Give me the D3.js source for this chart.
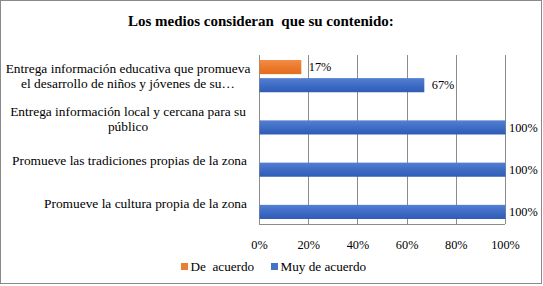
<!DOCTYPE html>
<html>
<head>
<meta charset="utf-8">
<script src="https://cdn.jsdelivr.net/npm/d3@7"></script>
<style>
  body { margin: 0; background: #fff; }
</style>
</head>
<body>
<div id="chart"></div>
<script>
  // data
  const categories = [
    ["Entrega información educativa que promueva", "el desarrollo de niños y jóvenes de su…"],
    ["Entrega información local y cercana para su", "público"],
    ["Promueve las tradiciones propias de la zona"],
    ["Promueve la cultura propia de la zona"]
  ];
  const seriesNames = ["De  acuerdo", "Muy de acuerdo"];
  const deAcuerdo = [17, null, null, null];
  const muyDeAcuerdo = [67, 100, 100, 100];
  const xTicks = [0, 20, 40, 60, 80, 100];
  const title = "Los medios consideran  que su contenido:";

  const W = 543, H = 286;
  const plot = {left: 259, right: 505, top: 55, bottom: 224};
  const colors = ["#ED7D31", "#4472C4"];
  const FONT = "Liberation Serif";

  const svg = d3.select("#chart").append("svg")
    .attr("width", W).attr("height", H);

  // gradients for bars
  const defs = svg.append("defs");
  const grads = [["#F28C46", "#EC7A2C", "#E26E1F"], ["#5480D2", "#3F6CC4", "#2E5CB6"]];
  grads.forEach((g, i) => {
    const lg = defs.append("linearGradient").attr("id", "g" + i)
      .attr("x1", 0).attr("y1", 0).attr("x2", 0).attr("y2", 1);
    lg.append("stop").attr("offset", "0%").attr("stop-color", g[0]);
    lg.append("stop").attr("offset", "50%").attr("stop-color", g[1]);
    lg.append("stop").attr("offset", "100%").attr("stop-color", g[2]);
  });

  // border
  svg.append("rect")
    .attr("x", 0.5).attr("y", 0.5)
    .attr("width", W - 2).attr("height", H - 3)
    .attr("fill", "#fff").attr("stroke", "#898989");

  svg.append("text")
    .attr("x", 128).attr("y", 26)
    .attr("font-family", FONT).attr("font-size", 15).attr("font-weight", "bold")
    .style("white-space", "pre")
    .text(title);

  // scales
  const x = d3.scaleLinear().domain([0, 100]).range([plot.left, plot.right]);
  const y0 = d3.scaleBand().domain(d3.range(categories.length))
    .range([plot.top, plot.bottom]).paddingInner(0.237).paddingOuter(0.1185);
  const y1 = d3.scaleBand().domain([0, 1])
    .range([0, y0.bandwidth()]).paddingInner(0.22);

  // gridlines
  svg.append("g")
    .attr("transform", `translate(0,${plot.bottom})`)
    .call(d3.axisBottom(x).tickValues(xTicks).tickSize(-(plot.bottom - plot.top)).tickFormat(""))
    .call(g => g.select(".domain").remove())
    .call(g => g.selectAll("line").attr("stroke", "#8c8c8c").attr("shape-rendering", "crispEdges"));

  // axis lines
  svg.append("line")
    .attr("x1", plot.left).attr("x2", plot.left)
    .attr("y1", plot.top).attr("y2", plot.bottom)
    .attr("stroke", "#8c8c8c").attr("shape-rendering", "crispEdges");
  svg.append("line")
    .attr("x1", plot.left).attr("x2", plot.right)
    .attr("y1", plot.bottom).attr("y2", plot.bottom)
    .attr("stroke", "#8c8c8c").attr("shape-rendering", "crispEdges");

  // x tick labels
  svg.append("g")
    .attr("transform", `translate(0,${plot.bottom})`)
    .call(d3.axisBottom(x).tickValues(xTicks).tickSize(0).tickPadding(16).tickFormat(d => d + "%"))
    .call(g => g.attr("font-family", FONT).attr("font-size", 12.3))
    .call(g => g.select(".domain").remove())
    .call(g => g.selectAll("text").attr("fill", "#000"));

  // bars
  const series = [deAcuerdo, muyDeAcuerdo];
  series.forEach((vals, s) => {
    const gs = svg.append("g");
    vals.forEach((v, i) => {
      if (v == null) return;
      const yy = y0(i) + y1(s);
      gs.append("rect")
        .attr("x", x(0) + 0.5).attr("y", yy)
        .attr("width", x(v) - x(0)).attr("height", y1.bandwidth())
        .attr("fill", `url(#g${s})`);
      gs.append("text")
        .attr("x", Math.min(x(v) + 8, 509))
        .attr("y", yy + y1.bandwidth() / 2)
        .attr("dy", "0.35em")
        .attr("font-family", FONT).attr("font-size", 12.3)
        .text(v + "%");
    });
  });

  // category labels
  categories.forEach((lines, i) => {
    const cy = y0(i) + y0.bandwidth() / 2;
    const t = svg.append("text")
      .attr("font-family", FONT).attr("font-size", 13.4)
      .attr("text-anchor", lines.length > 1 ? "middle" : "end");
    lines.forEach((ln, j) => {
      t.append("tspan")
        .attr("x", lines.length > 1 ? 128 : 247)
        .attr("y", cy + (j - (lines.length - 1) / 2) * 15)
        .attr("dy", "0.35em")
        .text(ln);
    });
  });

  // legend
  const legend = svg.append("g");
  const lx = [181, 271];
  seriesNames.forEach((n, i) => {
    legend.append("rect")
      .attr("x", lx[i]).attr("y", 263).attr("width", 7).attr("height", 7)
      .attr("fill", colors[i]);
    legend.append("text")
      .attr("x", lx[i] + 9.5).attr("y", 271)
      .attr("font-family", FONT).attr("font-size", 13.2)
      .style("white-space", "pre")
      .text(n);
  });
</script>
</body>
</html>
